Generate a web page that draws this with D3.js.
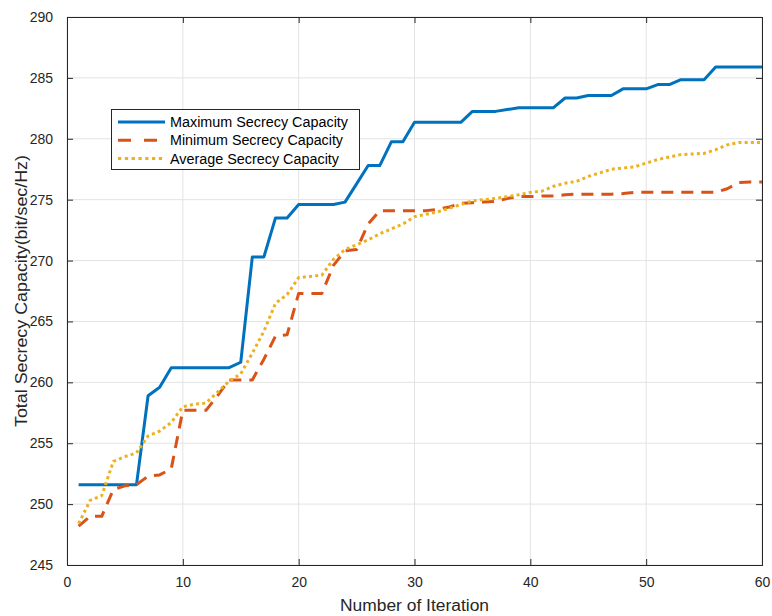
<!DOCTYPE html>
<html><head><meta charset="utf-8">
<script src="https://cdn.jsdelivr.net/npm/d3@7"></script>
<style>body{margin:0;background:#fff;} text{font-family:"Liberation Sans",Arial,sans-serif;}</style>
</head><body><svg id="c" width="772" height="616"></svg>
<script>
const iterations = d3.range(1, 61);
const maxCapacity = [251.6,251.6,251.6,251.6,251.6,251.6,258.9,259.6,261.2,261.2,
  261.2,261.2,261.2,261.2,261.65,270.3,270.3,273.5,273.5,274.6,
  274.6,274.6,274.6,274.8,276.3,277.8,277.8,279.75,279.75,281.35,
  281.35,281.35,281.35,281.35,282.25,282.25,282.25,282.4,282.55,282.55,
  282.55,282.55,283.35,283.35,283.55,283.55,283.55,284.1,284.1,284.1,
  284.45,284.45,284.85,284.85,284.85,285.9,285.9,285.9,285.9,285.9];
const minCapacity = [248.2,249.0,249.0,251.2,251.5,251.6,252.3,252.4,252.9,257.7,
  257.7,257.7,258.9,260.2,260.2,260.2,261.9,263.8,263.9,267.3,
  267.3,267.3,269.6,270.8,270.9,273.0,274.1,274.1,274.1,274.1,
  274.1,274.2,274.4,274.7,274.75,274.8,274.85,275.1,275.25,275.25,
  275.3,275.3,275.4,275.45,275.45,275.45,275.45,275.5,275.6,275.6,
  275.6,275.6,275.6,275.6,275.6,275.6,275.9,276.4,276.45,276.45];
const avgCapacity = [248.4,250.3,250.7,253.5,253.9,254.2,255.6,256.0,256.7,258.0,
  258.2,258.3,259.2,260.1,260.7,262.4,264.2,266.5,267.2,268.6,
  268.7,268.8,270.1,270.9,271.3,271.7,272.2,272.6,273.0,273.6,
  273.8,274.0,274.3,274.6,274.9,275.0,275.1,275.25,275.4,275.6,
  275.7,276.1,276.35,276.5,276.9,277.2,277.5,277.6,277.7,278.0,
  278.3,278.5,278.7,278.75,278.8,279.1,279.5,279.7,279.7,279.7];
const xTicks = [0,10,20,30,40,50,60];
const yTicks = [245,250,255,260,265,270,275,280,285,290];
const seriesNames = ["Maximum Secrecy Capacity","Minimum Secrecy Capacity","Average Secrecy Capacity"];
const seriesColors = ["#0072BD","#D95319","#EDB120"];

const L=67,R=762,T=17,B=565;
const svg=d3.select("#c");
const x=d3.scaleLinear().domain([0,60]).range([L,R]);
const y=d3.scaleLinear().domain([245,290]).range([B,T]);
const axisColor="#262626";

// grid
svg.append("g").selectAll("line.vg").data(xTicks).join("line")
  .attr("x1",d=>x(d)).attr("x2",d=>x(d)).attr("y1",T).attr("y2",B)
  .attr("stroke","#e3e3e3").attr("stroke-width",1);
svg.append("g").selectAll("line.hg").data(yTicks).join("line")
  .attr("y1",d=>y(d)).attr("y2",d=>y(d)).attr("x1",L).attr("x2",R)
  .attr("stroke","#e3e3e3").attr("stroke-width",1);

// axes
const fs="14px";
const xa=svg.append("g").attr("transform",`translate(0,${B})`)
  .call(d3.axisBottom(x).tickValues(xTicks).tickSize(-6).tickPadding(12));
const xt=svg.append("g").attr("transform",`translate(0,${T})`)
  .call(d3.axisTop(x).tickValues(xTicks).tickSize(-6).tickFormat(""));
const ya=svg.append("g").attr("transform",`translate(${L},0)`)
  .call(d3.axisLeft(y).tickValues(yTicks).tickSize(-6).tickPadding(14));
const yr=svg.append("g").attr("transform",`translate(${R},0)`)
  .call(d3.axisRight(y).tickValues(yTicks).tickSize(-6).tickFormat(""));
[xa,xt,ya,yr].forEach(g=>{
  g.selectAll("path").attr("stroke",axisColor).attr("stroke-width",1);
  g.selectAll("line").attr("stroke",axisColor);
  g.selectAll("text").attr("fill",axisColor).style("font-size",fs).attr("font-family","Liberation Sans, Arial, sans-serif");
});

// lines
const data=[maxCapacity,minCapacity,avgCapacity];
const dashes=[null,"12,8","3,3.2"];
const line=d3.line().x((d,i)=>x(iterations[i])).y(d=>y(d));
data.forEach((s,k)=>{
  svg.append("path").datum(s).attr("d",line).attr("fill","none")
    .attr("stroke",seriesColors[k]).attr("stroke-width",3)
    .attr("stroke-dasharray",dashes[k]).attr("stroke-linejoin","round");
});

// axis labels
svg.append("text").attr("x",(L+R)/2).attr("y",611).attr("text-anchor","middle")
  .attr("fill",axisColor).style("font-size","16px")
  .attr("textLength",149).attr("lengthAdjust","spacingAndGlyphs").text("Number of Iteration");
svg.append("text").attr("transform",`translate(27,${(T+B)/2}) rotate(-90)`).attr("text-anchor","middle")
  .attr("fill",axisColor).style("font-size","16px")
  .attr("textLength",272).attr("lengthAdjust","spacingAndGlyphs").text("Total Secrecy Capacity(bit/sec/Hz)");

// legend
const lg=svg.append("g");
lg.append("rect").attr("x",111.5).attr("y",109.5).attr("width",248).attr("height",60)
  .attr("fill","#fff").attr("stroke",axisColor).attr("stroke-width",1);
const legDash=[null,"13,13","3.3,3.5"];
const legW=[178,173,169];
seriesNames.forEach((n,k)=>{
  const yy=122+k*18.3;
  lg.append("line").attr("x1",118).attr("x2",165).attr("y1",yy).attr("y2",yy)
    .attr("stroke",seriesColors[k]).attr("stroke-width",3).attr("stroke-dasharray",legDash[k]);
  lg.append("text").attr("x",170).attr("y",yy+5).attr("fill","#000").style("font-size","14px")
    .attr("textLength",legW[k]).attr("lengthAdjust","spacingAndGlyphs").text(n);
});
</script></body></html>
